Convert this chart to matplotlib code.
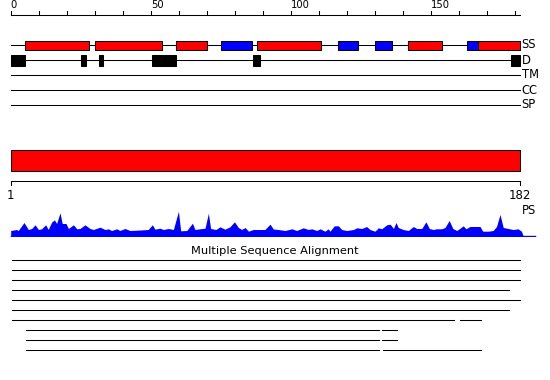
import matplotlib
matplotlib.use('Agg')
import matplotlib.pyplot as plt
from matplotlib.patches import Rectangle

# sequence length and feature tracks (residue coordinates)
seq_len = 182
helix = [(5, 28), (30, 54), (59, 70), (88, 111), (142, 154), (167, 182)]
strand = [(75, 86), (117, 124), (130, 136), (163, 167)]
disorder = [(0, 5), (25, 27), (31.5, 33), (50.5, 59), (86.5, 89), (178.7, 182)]
track_names = ['SS', 'D', 'TM', 'CC', 'SP']
top_ticks = list(range(0, 181, 10))
top_labels = [0, 50, 100, 150]

# PS profile (position, score)
ps_pos = [0, 2.1, 2.7, 4.75, 6.3, 7.5, 8.7, 9.9, 11, 12.5, 13.4, 14.6, 15.6, 16.4,
          17.6, 18.4, 19.75, 20.6, 22.4, 23.6, 24.75, 26.5, 28.3, 29.5, 31.9, 33.7,
          34.9, 36, 37.9, 39, 40.8, 42.6, 46.2, 49.1, 50.6, 51.5, 53.3, 54.5, 56.3,
          58.1, 59.9, 60.7, 62.9, 64.9, 65.8, 67.6, 69.4, 70.6, 71.4, 73.3, 74.75,
          76.5, 78.3, 79.9, 81.3, 82.5, 83.7, 84.9, 86.6, 90.8, 92.6, 93.8, 95.6,
          98, 100.4, 102.1, 104.5, 106.3, 107.5, 109.3, 110.5, 112.25, 113.4, 114,
          115.6, 117, 118.2, 120, 122.4, 123.6, 125.4, 127.1, 128.3, 130.1, 131.3,
          132.5, 134.3, 135.5, 136.7, 137.6, 138.4, 140.2, 142, 143.8, 145, 146.8,
          148.3, 149.5, 150.9, 152.1, 153.9, 155.1, 156.6, 157.9, 159.3, 160.2,
          161.6, 162.6, 164, 165.8, 167.6, 168.6, 170.6, 172.3, 173.5, 174.75,
          175.9, 177.7, 179.4, 181.2, 182.4, 183]
ps_val = [6, 7, 6, 14, 7, 8, 11.7, 7, 7.7, 11.7, 7, 14.3, 16.7, 13,
          23.7, 13, 13, 8, 11.7, 7.7, 8, 11.7, 8, 7, 9.3, 7,
          7.7, 6, 7.7, 6, 8, 6, 6.5, 7, 11.7, 7.3, 8.3, 7, 8,
          7, 25.3, 5.7, 6, 13.3, 7, 7.7, 8.3, 23.3, 8, 7, 9.7,
          7.3, 9.7, 14.7, 9, 7, 9, 5.3, 7, 7, 12.3, 7.5, 7,
          6, 7.7, 6, 8.7, 7, 7.7, 6, 7.7, 5.3, 7.7, 5.3,
          10.7, 10.7, 7, 6, 7, 8.7, 8, 10, 7, 5.3, 8.7,
          7.7, 11.7, 12.3, 8, 14, 9, 7, 6, 10, 8, 8,
          14.7, 8, 7, 7.7, 7.7, 9, 16, 8, 6, 7.7,
          10.7, 7.7, 10, 10, 10, 5.3, 5.3, 6, 10, 22,
          9, 8, 7, 7.7, 5.3, 0.7]

# multiple sequence alignment: covered segments per row
msa_rows = [
    [(0.5, 182)],
    [(0.5, 182)],
    [(0.5, 182)],
    [(0.5, 178)],
    [(0.5, 182)],
    [(0.5, 178)],
    [(0.5, 158.5), (160.5, 168)],
    [(5.5, 131.5), (132.5, 138)],
    [(5.5, 131.5), (132.5, 138)],
    [(5.5, 131.5), (133, 168)],
]

W, H = 550, 380
px = 2.8            # pixels per residue
x0 = 10.7           # pixel of residue 0
xlim = (-x0 / px, (W - x0) / px)
lw = 0.75

fig = plt.figure(figsize=(W / 100, H / 100), dpi=100)
ax = fig.add_axes([0, 0, 1, 1])
ax.set_xlim(*xlim)
ax.set_ylim(H, 0)
ax.axis('off')

# top ruler
ax.plot([0, seq_len], [15, 15], color='black', lw=lw)
for t in top_ticks:
    ax.plot([t, t], [15, 11], color='black', lw=lw)
for t in top_labels:
    ax.text(t, 9.5, str(t), ha='left', va='bottom', fontsize=7.2)

# feature tracks
track_y = [45, 60, 75, 90, 105]
for name, y in zip(track_names, track_y):
    ax.plot([0, seq_len], [y, y], color='black', lw=lw, zorder=1)
    ax.text(seq_len + 0.5, y, name, ha='left', va='center', fontsize=8.3)

for s, e in helix:
    ax.add_patch(Rectangle((s, 40.7), e - s, 9.5, facecolor='#ff0000',
                           edgecolor='black', lw=lw, zorder=2))
for s, e in strand:
    ax.add_patch(Rectangle((s, 40.7), e - s, 9.5, facecolor='#0000ff',
                           edgecolor='black', lw=lw, zorder=2))
for s, e in disorder:
    ax.add_patch(Rectangle((s, 54.7), e - s, 11, facecolor='black',
                           edgecolor='black', lw=lw, zorder=2))

# domain bar and bottom ruler
ax.add_patch(Rectangle((0, 150), seq_len, 20.7, facecolor='#ff0000',
                       edgecolor='black', lw=lw))
ax.plot([0, seq_len], [180.5, 180.5], color='black', lw=lw)
ax.plot([0, 0], [180.5, 185], color='black', lw=lw)
ax.plot([seq_len, seq_len], [180.5, 185], color='black', lw=lw)
ax.text(0, 195.5, '1', ha='center', va='center', fontsize=8.5)
ax.text(seq_len, 195.5, str(seq_len), ha='center', va='center', fontsize=8.5)
ax.text(seq_len + 0.5, 211, 'PS', ha='left', va='center', fontsize=8.3)

# MSA
ax.text(0.5, 250.5, 'Multiple Sequence Alignment', ha='center', va='center',
        fontsize=8.2, transform=ax.get_yaxis_transform())
for i, segs in enumerate(msa_rows):
    y = 260.3 + 10 * i
    for s, e in segs:
        ax.plot([s, e], [y, y], color='black', lw=lw)

# PS profile
ps_ax = fig.add_axes([0, (H - 236.5) / H, 1, 36 / H])
ps_ax.set_xlim(*xlim)
ps_ax.set_ylim(0, 36)
ps_ax.axis('off')
ps_ax.fill_between(ps_pos, 0, ps_val, color='#0000ff', lw=0)
ps_ax.plot([0, 187.3], [0.5, 0.5], color='#0000ff', lw=1.0)

fig.savefig('out.png', dpi=100)
